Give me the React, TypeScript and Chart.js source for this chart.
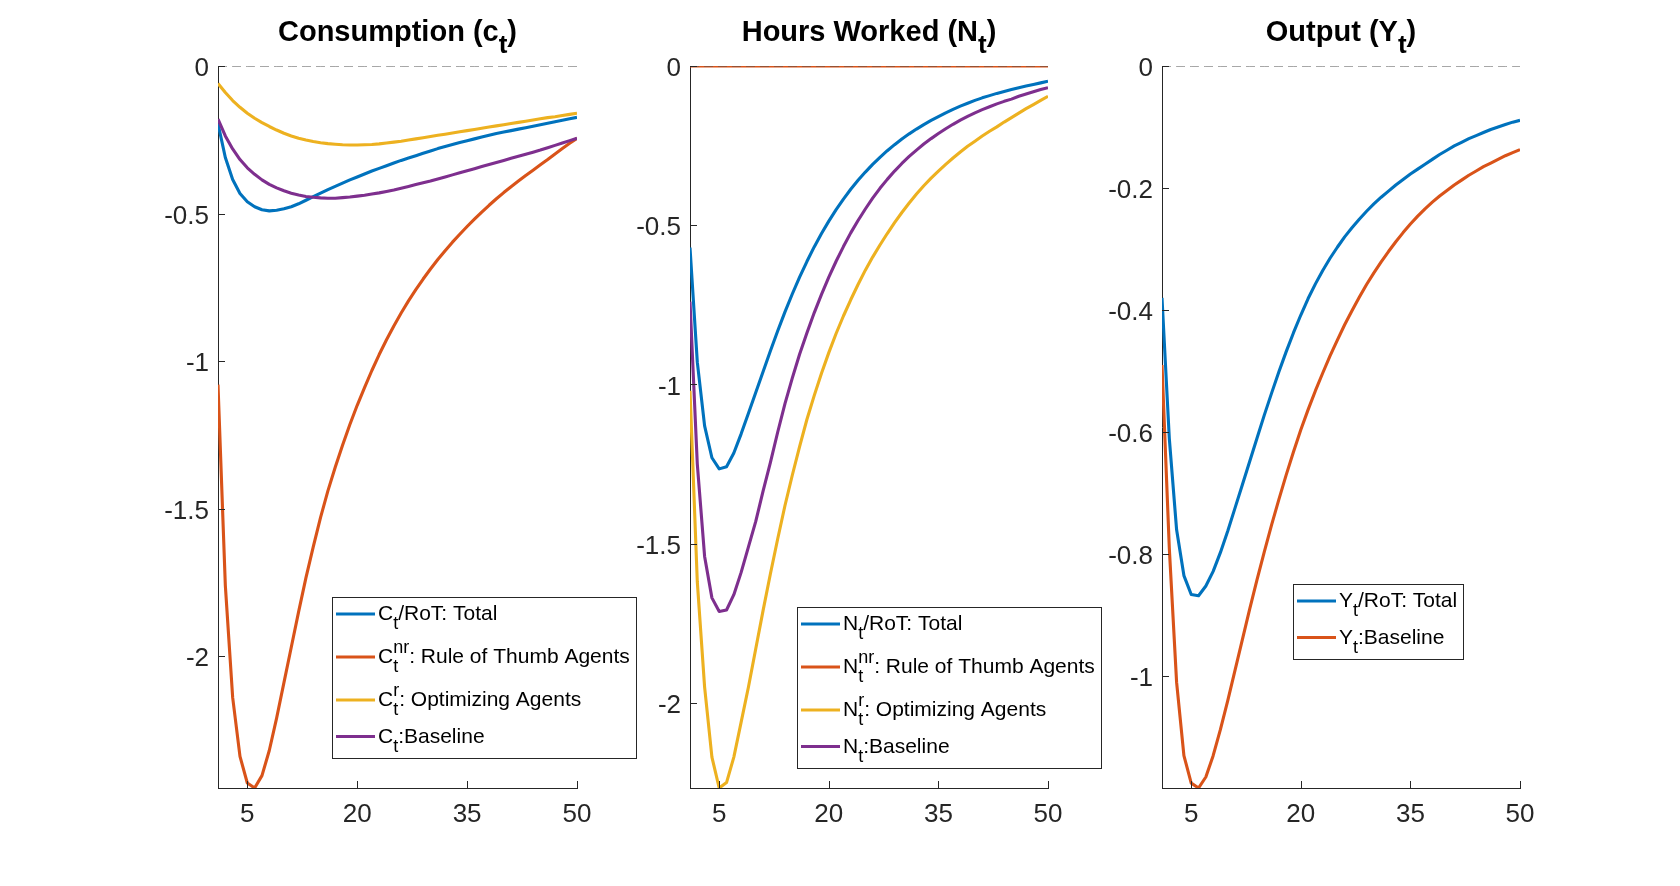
import React, { useEffect, useRef } from "react";
import Chart from "chart.js/auto";

// periods of the impulse responses
const periods = [
  1, 2, 3, 4, 5, 6, 7, 8, 9, 10, 11, 12, 13, 14, 15, 16, 17, 18, 19, 20, 21, 22, 23, 24, 25,
  26, 27, 28, 29, 30, 31, 32, 33, 34, 35, 36, 37, 38, 39, 40, 41, 42, 43, 44, 45, 46, 47, 48, 49, 50,
];

// Consumption
const cTotal = [
  -0.195, -0.31, -0.385, -0.432, -0.46, -0.477, -0.487, -0.491, -0.489, -0.484, -0.477, -0.467, -0.455,
  -0.443, -0.431, -0.419, -0.408, -0.397, -0.386, -0.376, -0.366, -0.356, -0.347, -0.338, -0.329, -0.32,
  -0.312, -0.304, -0.296, -0.288, -0.28, -0.273, -0.266, -0.259, -0.253, -0.247, -0.241, -0.235, -0.229,
  -0.224, -0.219, -0.214, -0.209, -0.204, -0.199, -0.194, -0.189, -0.184, -0.179, -0.174,
];
const cRot = [
  -1.08, -1.76, -2.14, -2.34, -2.43, -2.447, -2.405, -2.32, -2.21, -2.09, -1.97, -1.85, -1.735, -1.63,
  -1.53, -1.44, -1.36, -1.285, -1.215, -1.15, -1.09, -1.032, -0.978, -0.928, -0.881, -0.837, -0.796,
  -0.758, -0.722, -0.688, -0.656, -0.626, -0.597, -0.57, -0.544, -0.519, -0.495, -0.472, -0.45, -0.429,
  -0.409, -0.39, -0.371, -0.353, -0.335, -0.317, -0.298, -0.28, -0.262, -0.245,
];
const cOpt = [
  -0.059, -0.09, -0.117, -0.14, -0.16, -0.177, -0.192, -0.205, -0.217, -0.228, -0.237, -0.245, -0.251,
  -0.256, -0.26, -0.263, -0.265, -0.267, -0.268, -0.268, -0.267, -0.266, -0.264, -0.261, -0.258, -0.255,
  -0.251, -0.247, -0.243, -0.239, -0.235, -0.231, -0.227, -0.223, -0.219, -0.215, -0.211, -0.207, -0.203,
  -0.199, -0.195, -0.191, -0.187, -0.183, -0.179, -0.175, -0.172, -0.168, -0.164, -0.16,
];
const cBase = [
  -0.18, -0.237, -0.281, -0.317, -0.345, -0.367, -0.386, -0.401, -0.413, -0.423, -0.431, -0.437, -0.442,
  -0.445, -0.447, -0.448, -0.448, -0.446, -0.444, -0.441, -0.438, -0.434, -0.43, -0.425, -0.42, -0.414,
  -0.408, -0.402, -0.396, -0.39, -0.383, -0.376, -0.369, -0.362, -0.355, -0.348, -0.341, -0.334, -0.327,
  -0.32, -0.313, -0.306, -0.299, -0.292, -0.285, -0.277, -0.269, -0.261, -0.253, -0.245,
];

// Hours worked
const nTotal = [
  -0.57, -0.93, -1.13, -1.23, -1.265, -1.258, -1.215, -1.155, -1.09, -1.025, -0.96, -0.895, -0.832,
  -0.772, -0.716, -0.663, -0.614, -0.568, -0.526, -0.487, -0.451, -0.418, -0.387, -0.359, -0.333, -0.309,
  -0.287, -0.266, -0.247, -0.229, -0.213, -0.198, -0.184, -0.171, -0.159, -0.147, -0.136, -0.126, -0.117,
  -0.108, -0.1, -0.093, -0.086, -0.08, -0.074, -0.068, -0.063, -0.058, -0.053, -0.048,
];
const nRot = [
  0, 0, 0, 0, 0, 0, 0, 0, 0, 0, 0, 0, 0, 0, 0, 0, 0, 0, 0, 0, 0, 0, 0, 0, 0,
  0, 0, 0, 0, 0, 0, 0, 0, 0, 0, 0, 0, 0, 0, 0, 0, 0, 0, 0, 0, 0, 0, 0, 0, 0,
];
const nOpt = [
  -1.02, -1.62, -1.95, -2.17, -2.267, -2.25, -2.17, -2.06, -1.95, -1.83, -1.71, -1.595, -1.485, -1.38,
  -1.285, -1.195, -1.11, -1.035, -0.965, -0.9, -0.84, -0.785, -0.734, -0.686, -0.641, -0.6, -0.562,
  -0.526, -0.492, -0.46, -0.43, -0.402, -0.376, -0.352, -0.33, -0.309, -0.289, -0.27, -0.252, -0.236,
  -0.22, -0.205, -0.191, -0.176, -0.162, -0.148, -0.134, -0.121, -0.108, -0.095,
];
const nBase = [
  -0.74, -1.25, -1.54, -1.67, -1.713, -1.708, -1.66, -1.59, -1.51, -1.43, -1.335, -1.245, -1.15, -1.06,
  -0.98, -0.905, -0.838, -0.775, -0.717, -0.663, -0.613, -0.567, -0.524, -0.485, -0.449, -0.415, -0.384,
  -0.356, -0.33, -0.306, -0.284, -0.264, -0.245, -0.228, -0.212, -0.197, -0.183, -0.17, -0.158, -0.147,
  -0.137, -0.128, -0.119, -0.111, -0.104, -0.095, -0.088, -0.081, -0.074, -0.068,
];

// Output
const yTotal = [
  -0.38, -0.61, -0.76, -0.835, -0.866, -0.868, -0.852, -0.828, -0.797, -0.762, -0.724, -0.686, -0.648,
  -0.61, -0.572, -0.536, -0.501, -0.468, -0.437, -0.408, -0.381, -0.357, -0.335, -0.315, -0.297, -0.28,
  -0.265, -0.251, -0.238, -0.226, -0.215, -0.205, -0.195, -0.186, -0.177, -0.169, -0.161, -0.153, -0.145,
  -0.138, -0.131, -0.125, -0.119, -0.114, -0.109, -0.104, -0.1, -0.096, -0.092, -0.089,
];
const yBase = [
  -0.49, -0.79, -1.01, -1.13, -1.175, -1.183, -1.165, -1.13, -1.087, -1.04, -0.99, -0.94, -0.89, -0.842,
  -0.796, -0.752, -0.71, -0.67, -0.632, -0.596, -0.563, -0.532, -0.503, -0.475, -0.449, -0.424, -0.401,
  -0.379, -0.358, -0.339, -0.321, -0.304, -0.288, -0.273, -0.259, -0.246, -0.234, -0.223, -0.213, -0.204,
  -0.195, -0.187, -0.179, -0.172, -0.165, -0.159, -0.153, -0.147, -0.142, -0.137,
];

const xTicks = [5, 20, 35, 50];
const consumptionTicks = [0, -0.5, -1, -1.5, -2];
const hoursTicks = [0, -0.5, -1, -1.5, -2];
const outputTicks = [0, -0.2, -0.4, -0.6, -0.8, -1];

const BLUE = "#0072BD";
const RED = "#D95319";
const YELLOW = "#EDB120";
const PURPLE = "#7E2F8E";
const AXIS = "#262626";
const FONT = "'Liberation Sans', Arial, Helvetica, sans-serif";
const LINE_W = 3.1;

const W = 1680;
const H = 886;
const PLOT_TOP = 66;
const PLOT_BOTTOM = 788;
const Y_AXIS_W = 80;
const X_AXIS_H = 60;

// rich text: plain runs plus stacked sub/superscripts
type Part = { t?: string; sub?: string; sup?: string };

interface Series {
  values: number[];
  color: string;
  label: Part[];
}

interface PanelSpec {
  title: Part[];
  series: Series[];
  yTicks: number[];
  left: number;
  right: number;
  legendDx: number;
  legendDy: number;
}

const panels: PanelSpec[] = [
  {
    title: [{ t: "Consumption (c" }, { sub: "t" }, { t: ")" }],
    series: [
      { values: cTotal, color: BLUE, label: [{ t: "C" }, { sub: "t" }, { t: "/RoT: Total" }] },
      { values: cRot, color: RED, label: [{ t: "C" }, { sub: "t", sup: "nr" }, { t: ": Rule of Thumb Agents" }] },
      { values: cOpt, color: YELLOW, label: [{ t: "C" }, { sub: "t", sup: "r" }, { t: ": Optimizing Agents" }] },
      { values: cBase, color: PURPLE, label: [{ t: "C" }, { sub: "t" }, { t: ":Baseline" }] },
    ],
    yTicks: consumptionTicks,
    left: 218,
    right: 577,
    legendDx: 114,
    legendDy: 531,
  },
  {
    title: [{ t: "Hours Worked (N" }, { sub: "t" }, { t: ")" }],
    series: [
      { values: nTotal, color: BLUE, label: [{ t: "N" }, { sub: "t" }, { t: "/RoT: Total" }] },
      { values: nRot, color: RED, label: [{ t: "N" }, { sub: "t", sup: "nr" }, { t: ": Rule of Thumb Agents" }] },
      { values: nOpt, color: YELLOW, label: [{ t: "N" }, { sub: "t", sup: "r" }, { t: ": Optimizing Agents" }] },
      { values: nBase, color: PURPLE, label: [{ t: "N" }, { sub: "t" }, { t: ":Baseline" }] },
    ],
    yTicks: hoursTicks,
    left: 690,
    right: 1048,
    legendDx: 107,
    legendDy: 541,
  },
  {
    title: [{ t: "Output (Y" }, { sub: "t" }, { t: ")" }],
    series: [
      { values: yTotal, color: BLUE, label: [{ t: "Y" }, { sub: "t" }, { t: "/RoT: Total" }] },
      { values: yBase, color: RED, label: [{ t: "Y" }, { sub: "t" }, { t: ":Baseline" }] },
    ],
    yTicks: outputTicks,
    left: 1162,
    right: 1520,
    legendDx: 131,
    legendDy: 518,
  },
];

function drawRich(
  ctx: CanvasRenderingContext2D,
  parts: Part[],
  x: number,
  y: number,
  font: string,
  scriptFont: string,
  subDy: number,
  supDy: number,
  measureOnly = false
): number {
  let cx = x;
  for (const p of parts) {
    if (p.t) {
      ctx.font = font;
      if (!measureOnly) ctx.fillText(p.t, cx, y);
      cx += ctx.measureText(p.t).width;
    } else {
      ctx.font = scriptFont;
      let w = 0;
      if (p.sub) {
        if (!measureOnly) ctx.fillText(p.sub, cx, y + subDy);
        w = Math.max(w, ctx.measureText(p.sub).width);
      }
      if (p.sup) {
        if (!measureOnly) ctx.fillText(p.sup, cx, y - supDy);
        w = Math.max(w, ctx.measureText(p.sup).width);
      }
      cx += w;
    }
  }
  return cx - x;
}

// inward ticks, title and the boxed legend, MATLAB style
const matlabDecor = {
  id: "matlabDecor",
  afterDraw(chart: any, _args: any, opts: any) {
    const ctx: CanvasRenderingContext2D = chart.ctx;
    const { left, right, bottom } = chart.chartArea;
    const xs = chart.scales.x;
    const ys = chart.scales.y;

    ctx.save();
    ctx.strokeStyle = AXIS;
    ctx.lineWidth = 1;
    ctx.beginPath();
    for (const t of xs.ticks) {
      const px = Math.round(xs.getPixelForValue(t.value)) + 0.5;
      ctx.moveTo(px, bottom);
      ctx.lineTo(px, bottom - 7);
    }
    for (const t of ys.ticks) {
      const py = Math.round(ys.getPixelForValue(t.value)) + 0.5;
      ctx.moveTo(left, py);
      ctx.lineTo(left + 7, py);
    }
    ctx.stroke();

    // title
    const tFont = `bold 29px ${FONT}`;
    const tSub = `bold 26px ${FONT}`;
    ctx.fillStyle = "#000";
    ctx.textBaseline = "alphabetic";
    ctx.textAlign = "left";
    const tw = drawRich(ctx, opts.title, 0, 0, tFont, tSub, 12, 0, true);
    drawRich(ctx, opts.title, (left + right) / 2 - tw / 2, 41, tFont, tSub, 12, 0);

    // legend
    const lFont = `21px ${FONT}`;
    const lScript = `18px ${FONT}`;
    const items = chart.data.datasets.filter((d: any) => d.richLabel);
    const bx = left + opts.legendDx;
    const by = chart.chartArea.top + opts.legendDy;
    const bases: number[] = [];
    let base = 23;
    items.forEach((d: any, i: number) => {
      if (i > 0) base += 36.5 + (d.richLabel.some((p: Part) => p.sup) ? 6.5 : 0);
      bases.push(base);
    });
    let maxW = 0;
    for (const d of items) maxW = Math.max(maxW, drawRich(ctx, d.richLabel, 0, 0, lFont, lScript, 9, 10, true));
    const bw = Math.round(maxW + 46 + 6);
    const bh = Math.round(base + 15);
    ctx.fillStyle = "#fff";
    ctx.fillRect(bx, by, bw, bh);
    ctx.strokeStyle = AXIS;
    ctx.lineWidth = 1;
    ctx.strokeRect(bx + 0.5, by + 0.5, bw, bh);
    items.forEach((d: any, i: number) => {
      const yb = by + bases[i];
      ctx.strokeStyle = d.borderColor;
      ctx.lineWidth = LINE_W;
      ctx.beginPath();
      ctx.moveTo(bx + 4, yb - 6);
      ctx.lineTo(bx + 43, yb - 6);
      ctx.stroke();
      ctx.fillStyle = "#000";
      drawRich(ctx, d.richLabel, bx + 46, yb, lFont, lScript, 9, 10);
    });
    ctx.restore();
  },
};

const Panel: React.FC<{ spec: PanelSpec }> = ({ spec }) => {
  const canvasRef = useRef<HTMLCanvasElement>(null);

  useEffect(() => {
    if (!canvasRef.current) return;
    const ctx = canvasRef.current.getContext("2d");
    if (!ctx) return;

    const allValues = spec.series.flatMap((s) => s.values);
    const yMin = Math.min(...allValues);
    const zeros = periods.map(() => 0);

    const datasets: any[] = spec.series.map((s, i) => ({
      data: periods.map((p, k) => ({ x: p, y: s.values[k] })),
      borderColor: s.color,
      backgroundColor: s.color,
      borderWidth: LINE_W,
      pointRadius: 0,
      fill: false,
      tension: 0,
      borderJoinStyle: "round",
      order: spec.series.length - i,
      richLabel: s.label,
    }));
    // dashed zero reference line, drawn on top
    datasets.push({
      data: periods.map((p, k) => ({ x: p, y: zeros[k] })),
      borderColor: "#505050",
      borderWidth: 1,
      borderDash: [9, 5],
      pointRadius: 0,
      fill: false,
      order: 0,
    });

    const chart = new Chart(ctx, {
      type: "line",
      data: { datasets },
      plugins: [matlabDecor],
      options: {
        animation: false,
        responsive: false,
        devicePixelRatio: 1,
        events: [],
        layout: {
          padding: {
            left: spec.left - Y_AXIS_W,
            right: W - spec.right,
            top: PLOT_TOP,
            bottom: H - PLOT_BOTTOM - X_AXIS_H,
          },
        },
        scales: {
          x: {
            type: "linear",
            min: 1,
            max: 50,
            afterBuildTicks: (s: any) => {
              s.ticks = xTicks.map((value) => ({ value }));
            },
            afterFit: (s: any) => {
              s.height = X_AXIS_H;
            },
            grid: { display: false, drawTicks: false },
            border: { display: true, color: AXIS, width: 1 },
            ticks: {
              color: AXIS,
              font: { family: FONT, size: 26 },
              padding: 11,
              maxRotation: 0,
              autoSkip: false,
              callback: (v: any) => String(v),
            },
          },
          y: {
            type: "linear",
            min: yMin,
            max: 0,
            afterBuildTicks: (s: any) => {
              s.ticks = spec.yTicks.map((value) => ({ value }));
            },
            afterFit: (s: any) => {
              s.width = Y_AXIS_W;
            },
            grid: { display: false, drawTicks: false },
            border: { display: true, color: AXIS, width: 1 },
            ticks: {
              color: AXIS,
              font: { family: FONT, size: 26 },
              padding: 9,
              labelOffset: 3,
              autoSkip: false,
              callback: (v: any) => String(Number(v) === 0 ? 0 : v),
            },
          },
        },
        plugins: {
          legend: { display: false },
          tooltip: { enabled: false },
          title: { display: false },
          matlabDecor: {
            title: spec.title,
            legendDx: spec.legendDx,
            legendDy: spec.legendDy,
          },
        } as any,
      },
    });

    return () => {
      chart.destroy();
    };
  }, [spec]);

  return (
    <canvas
      ref={canvasRef}
      width={W}
      height={H}
      style={{ position: "absolute", left: 0, top: 0, width: W, height: H }}
    />
  );
};

export default function App() {
  return (
    <div
      style={{
        position: "absolute",
        left: 0,
        top: 0,
        width: W,
        height: H,
        background: "#fff",
        overflow: "hidden",
      }}
    >
      {panels.map((p, i) => (
        <Panel key={i} spec={p} />
      ))}
    </div>
  );
}
